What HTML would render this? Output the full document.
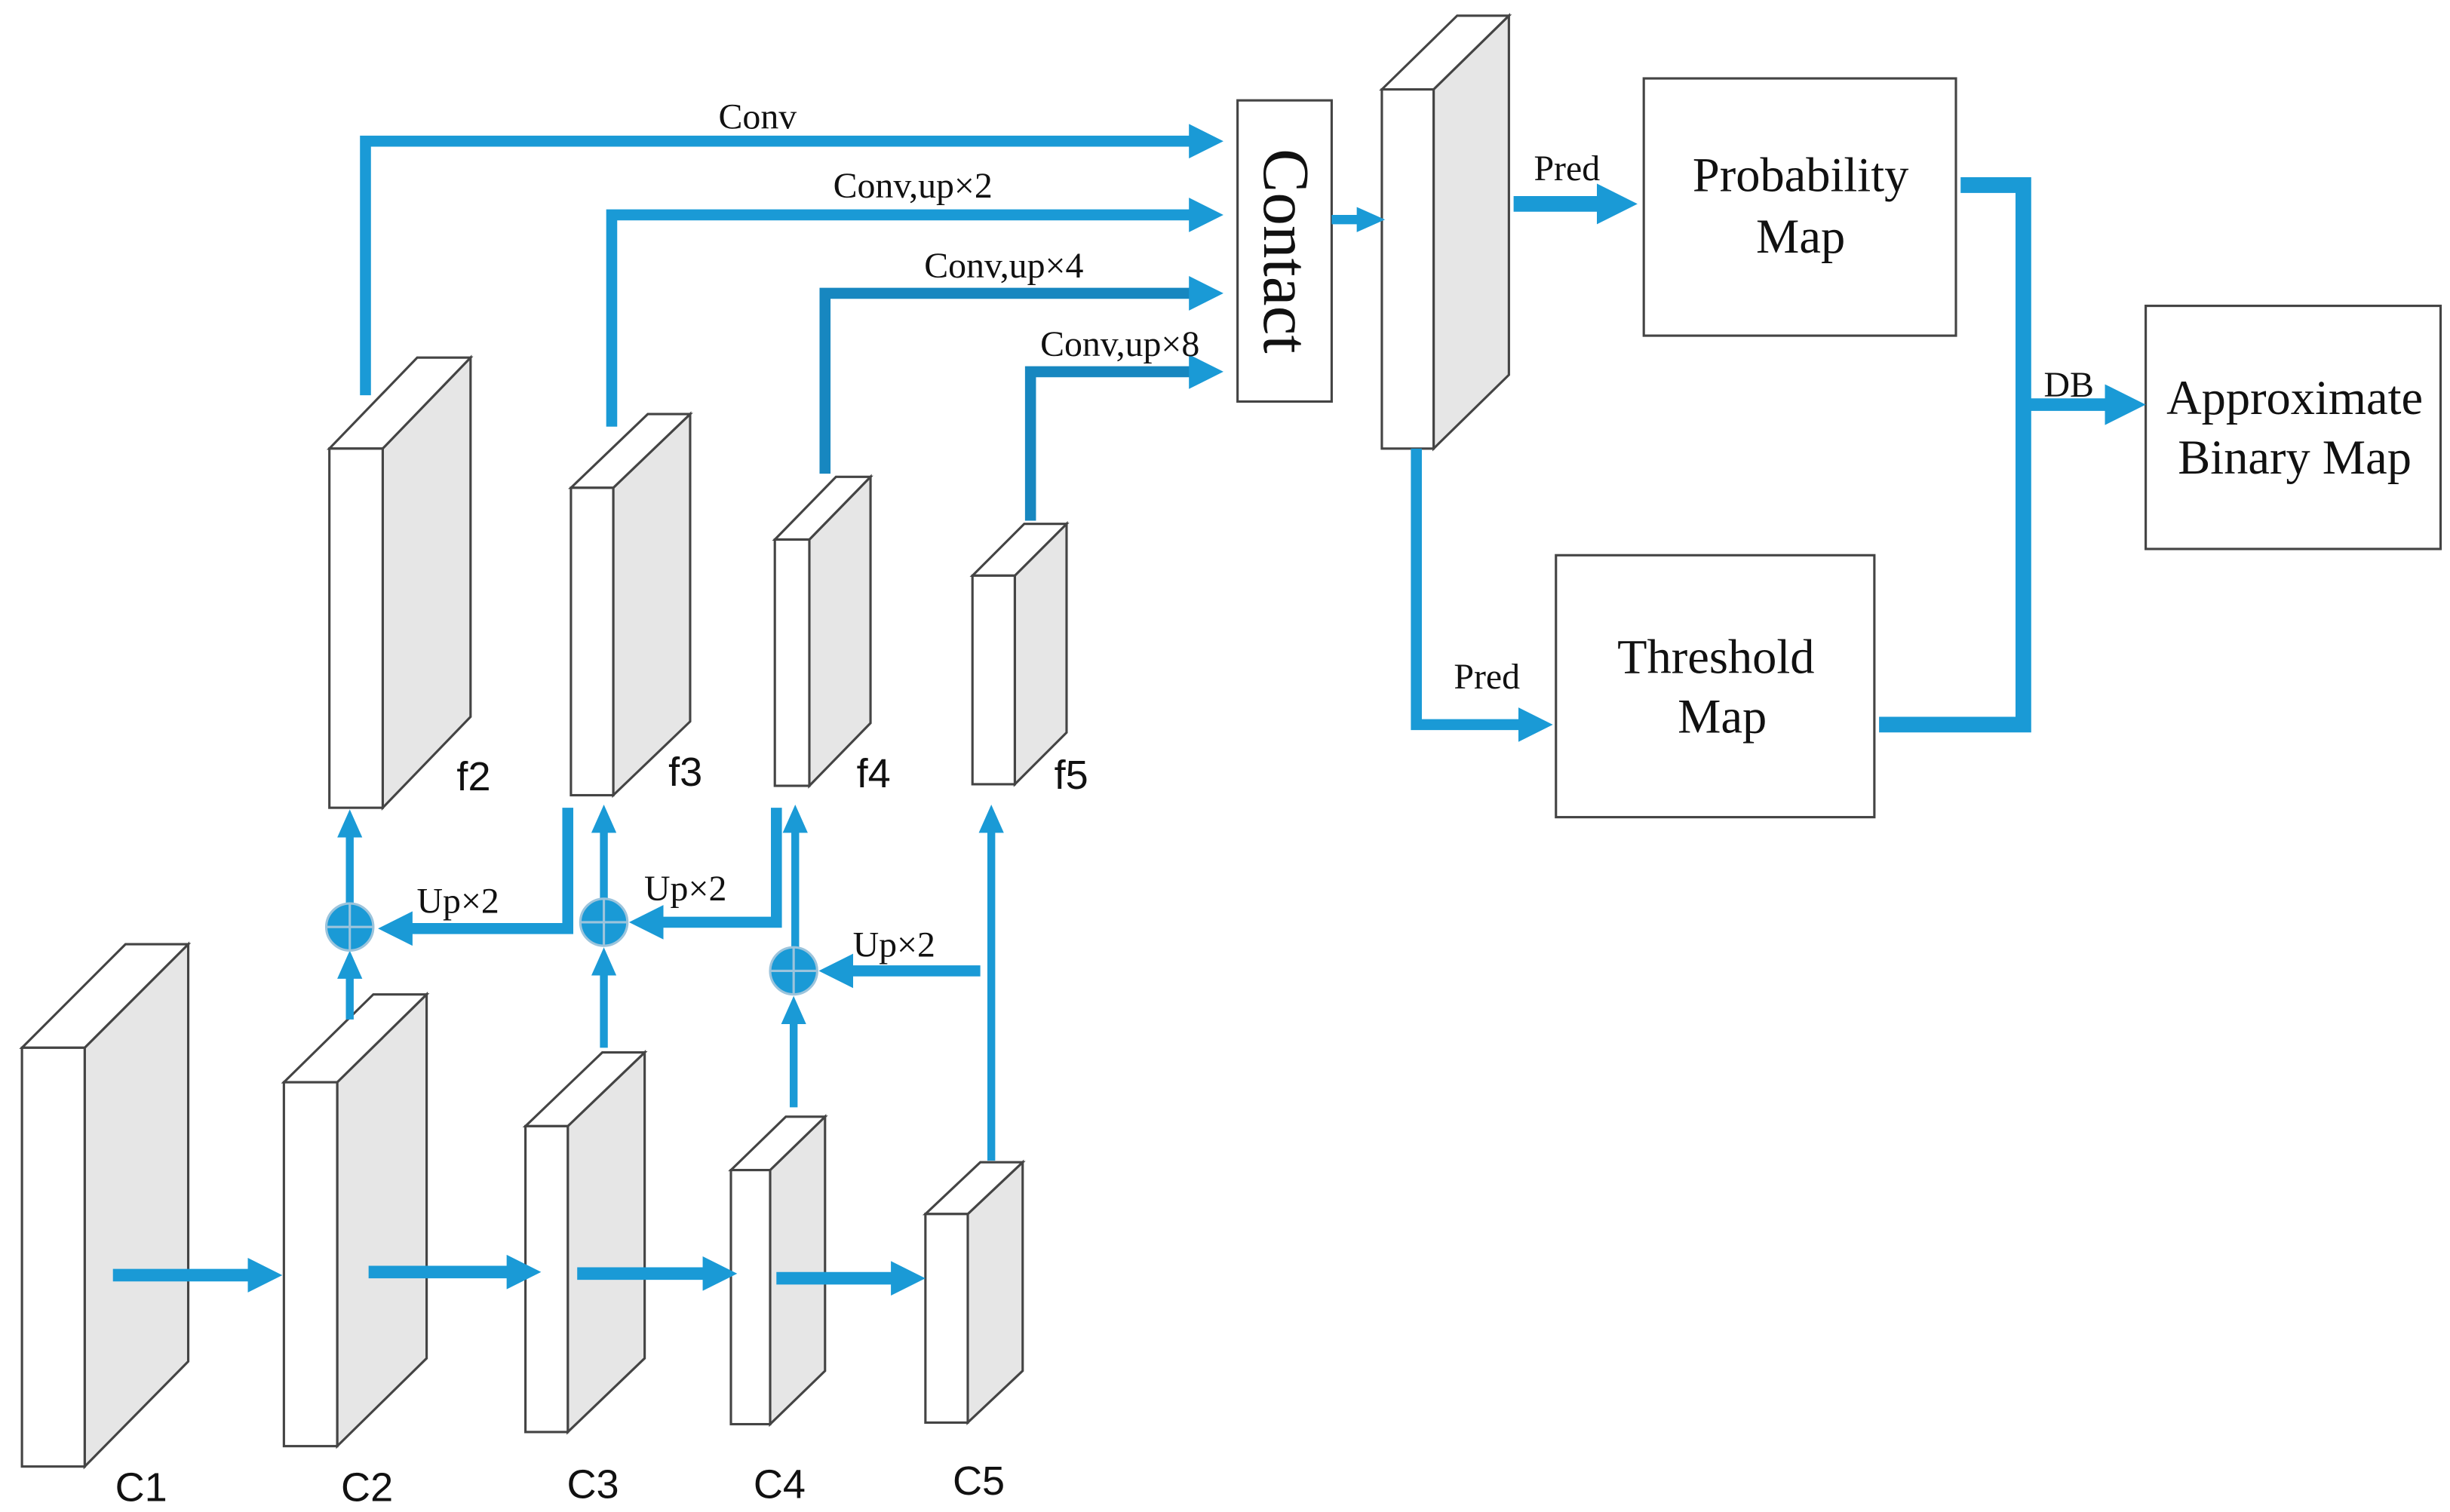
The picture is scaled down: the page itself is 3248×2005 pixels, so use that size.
<!DOCTYPE html>
<html><head><meta charset="utf-8"><style>html,body{margin:0;padding:0;background:#fff}svg{display:block}</style></head>
<body>
<svg xmlns="http://www.w3.org/2000/svg" width="3248" height="2005" viewBox="0 0 1562 964" preserveAspectRatio="none">
<defs>
<marker id="hs" markerUnits="userSpaceOnUse" markerWidth="18" markerHeight="16" refX="1" refY="8" orient="auto"><path d="M0,0L18,8L0,16z" fill="#1a9ad6"/></marker>
<marker id="hm" markerUnits="userSpaceOnUse" markerWidth="22" markerHeight="22" refX="1" refY="11" orient="auto"><path d="M0,0L22,11L0,22z" fill="#1a9ad6"/></marker>
<marker id="hl" markerUnits="userSpaceOnUse" markerWidth="26" markerHeight="26" refX="1" refY="13" orient="auto"><path d="M0,0L26,13L0,26z" fill="#1a9ad6"/></marker>
</defs>
<g stroke="#444" stroke-width="1.5" stroke-linejoin="miter">
<polygon points="54,668 120,602 120,868 54,935" fill="#e6e6e6"/><polygon points="14,668 80,602 120,602 54,668" fill="#fff"/><rect x="14" y="668" width="40" height="267" fill="#fff"/>
<polygon points="215,690 272,634 272,866 215,922" fill="#e6e6e6"/><polygon points="181,690 238,634 272,634 215,690" fill="#fff"/><rect x="181" y="690" width="34" height="232" fill="#fff"/>
<polygon points="362,718 411,671 411,866 362,913" fill="#e6e6e6"/><polygon points="335,718 384,671 411,671 362,718" fill="#fff"/><rect x="335" y="718" width="27" height="195" fill="#fff"/>
<polygon points="491,746 526,712 526,874 491,908" fill="#e6e6e6"/><polygon points="466,746 501,712 526,712 491,746" fill="#fff"/><rect x="466" y="746" width="25" height="162" fill="#fff"/>
<polygon points="617,774 652,741 652,874 617,907" fill="#e6e6e6"/><polygon points="590,774 625,741 652,741 617,774" fill="#fff"/><rect x="590" y="774" width="27" height="133" fill="#fff"/>
<polygon points="244,286 300,228 300,457 244,515" fill="#e6e6e6"/><polygon points="210,286 266,228 300,228 244,286" fill="#fff"/><rect x="210" y="286" width="34" height="229" fill="#fff"/>
<polygon points="391,311 440,264 440,460 391,507" fill="#e6e6e6"/><polygon points="364,311 413,264 440,264 391,311" fill="#fff"/><rect x="364" y="311" width="27" height="196" fill="#fff"/>
<polygon points="516,344 555,304 555,461 516,501" fill="#e6e6e6"/><polygon points="494,344 533,304 555,304 516,344" fill="#fff"/><rect x="494" y="344" width="22" height="157" fill="#fff"/>
<polygon points="647,367 680,334 680,467 647,500" fill="#e6e6e6"/><polygon points="620,367 653,334 680,334 647,367" fill="#fff"/><rect x="620" y="367" width="27" height="133" fill="#fff"/>
<polygon points="914,57 962,10 962,239 914,286" fill="#e6e6e6"/><polygon points="881,57 929,10 962,10 914,57" fill="#fff"/><rect x="881" y="57" width="33" height="229" fill="#fff"/>
<rect x="789" y="64" width="60" height="192" fill="#fff"/>
<rect x="1048" y="50" width="199" height="164" fill="#fff"/>
<rect x="992" y="354" width="203" height="167" fill="#fff"/>
<rect x="1368" y="195" width="188" height="155" fill="#fff"/>
</g>
<g stroke="#1a9ad6" fill="none" stroke-linejoin="miter">
<g stroke-width="8" marker-end="url(#hm)">
<line x1="72" y1="813" x2="159" y2="813"/><line x1="235" y1="811" x2="324" y2="811"/><line x1="368" y1="812" x2="449" y2="812"/><line x1="495" y1="815" x2="569" y2="815"/>
</g>
<g stroke-width="5" marker-end="url(#hs)">
<line x1="223" y1="650" x2="223" y2="623"/><line x1="223" y1="577" x2="223" y2="533"/>
<line x1="385" y1="668" x2="385" y2="621"/><line x1="385" y1="574" x2="385" y2="530"/>
<line x1="506" y1="706" x2="506" y2="652"/><line x1="507" y1="604" x2="507" y2="530"/>
<line x1="632" y1="740" x2="632" y2="530"/>
</g>
<g stroke-width="7" marker-end="url(#hm)">
<polyline points="362,515 362,592 262,592"/><polyline points="495,515 495,588 422,588"/><polyline points="625,619 543,619"/>
<polyline points="233,252 233,90 759,90"/><polyline points="390,272 390,137 759,137"/><polyline points="526,302 526,187 759,187" stroke="#1787c0"/><polyline points="657,332 657,237 759,237" stroke="#1787c0"/>
<polyline points="903,286 903,462 969,462"/>
</g>
<line x1="849" y1="140" x2="866" y2="140" stroke-width="6" marker-end="url(#hs)"/>
<line x1="965" y1="130" x2="1019" y2="130" stroke-width="10" marker-end="url(#hl)"/>
<polyline points="1250,118 1290,118 1290,462 1198,462" stroke-width="10"/>
<line x1="1286" y1="258" x2="1343" y2="258" stroke-width="8" marker-end="url(#hl)"/>
</g>
<g fill="#1a9ad6" stroke="#9cc4dc" stroke-width="1.5">
<ellipse cx="223" cy="591" rx="15" ry="15"/><line x1="208" y1="591" x2="238" y2="591"/><line x1="223" y1="576" x2="223" y2="606"/>
<ellipse cx="385" cy="588" rx="15" ry="15"/><line x1="370" y1="588" x2="400" y2="588"/><line x1="385" y1="573" x2="385" y2="603"/>
<ellipse cx="506" cy="619" rx="15" ry="15"/><line x1="491" y1="619" x2="521" y2="619"/><line x1="506" y1="604" x2="506" y2="634"/>
</g>
<g font-family="Liberation Serif, serif" fill="#111">
<text x="483" y="82" font-size="23" text-anchor="middle">Conv</text>
<text x="582" y="126" font-size="23" text-anchor="middle">Conv,up×2</text>
<text x="640" y="177" font-size="23" text-anchor="middle">Conv,up×4</text>
<text x="714" y="227" font-size="23" text-anchor="middle">Conv,up×8</text>
<text x="292" y="582" font-size="23" text-anchor="middle">Up×2</text>
<text x="437" y="574" font-size="23" text-anchor="middle">Up×2</text>
<text x="570" y="610" font-size="23" text-anchor="middle">Up×2</text>
<text x="999" y="115" font-size="23" text-anchor="middle">Pred</text>
<text x="948" y="439" font-size="23" text-anchor="middle">Pred</text>
<text x="1319" y="253" font-size="23" text-anchor="middle">DB</text>
<text transform="translate(806,160) rotate(90)" font-size="42" text-anchor="middle">Contact</text>
<text x="1148" y="122" font-size="31" text-anchor="middle">Probability</text>
<text x="1148" y="161" font-size="31" text-anchor="middle">Map</text>
<text x="1094" y="429" font-size="31" text-anchor="middle">Threshold</text>
<text x="1098" y="467" font-size="31" text-anchor="middle">Map</text>
<text x="1463" y="264" font-size="31" text-anchor="middle">Approximate</text>
<text x="1463" y="302" font-size="31" text-anchor="middle">Binary Map</text>
</g>
<g font-family="Liberation Sans, sans-serif" fill="#111" font-size="26" text-anchor="middle">
<text x="90" y="957">C1</text><text x="234" y="957">C2</text><text x="378" y="955">C3</text><text x="497" y="955">C4</text><text x="624" y="953">C5</text>
<text x="302" y="504">f2</text><text x="437" y="501">f3</text><text x="557" y="502">f4</text><text x="683" y="503">f5</text>
</g>
</svg>
</body></html>
